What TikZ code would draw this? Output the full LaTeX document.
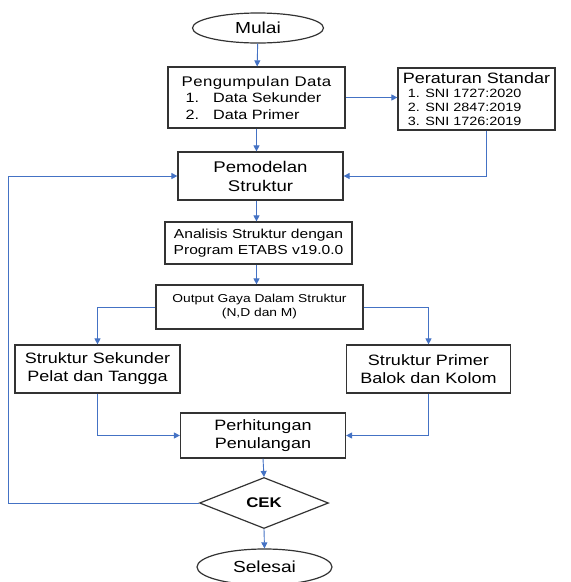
\documentclass[tikz,border=0pt]{standalone}
\usepackage{fontspec}
\setmainfont{Liberation Sans}[FakeStretch=1.2]
\usepackage{tikz}
\usetikzlibrary{positioning, arrows.meta, shapes.geometric}
\definecolor{linkblue}{RGB}{68,114,196}
\newcommand{\setfs}[2]{\fontsize{#1pt}{#2pt}\selectfont}

\begin{document}
\begin{tikzpicture}[x=1pt, y=-1pt,
    box/.style={
      draw=black!80, line width=1.2pt, align=center, inner sep=2pt
    },
    term/.style={
      draw=black!80, line width=1.2pt, ellipse, inner sep=0pt, font=\setfs{16}{18}
    },
    cekbox/.style={
      draw=black!80, line width=1.2pt, diamond, aspect=2.5, inner sep=0pt
    },
    arr/.style={-{Triangle[length=6pt, width=6pt]}, line width=0.9pt, linkblue},
  ]
    \useasboundingbox (0,0) rectangle (571,582);
    \node[term, minimum width=131pt, minimum height=30pt] (mulai) at (258,28) {Mulai};
    \node[box, align=left, font=\setfs{13.5}{16.5}, minimum width=177pt, minimum height=61pt] (kumpul) at (256.5,97.5) {%
      {\setfs{14}{16.5}\addfontfeature{LetterSpace=3}Pengumpulan Data}\\
      \hspace*{4pt}1.\hspace{14pt}Data Sekunder\\
      \hspace*{4pt}2.\hspace{14pt}Data Primer};
    \node[box, align=left, font=\setfs{15}{14}, minimum width=157pt, minimum height=62pt] (atur) at (476.5,99) {%
      Peraturan Standar\\
      {\setfs{12}{14}\hspace*{5pt}1. SNI 1727:2020}\\
      {\setfs{12}{14}\hspace*{5pt}2. SNI 2847:2019}\\
      {\setfs{12}{14}\hspace*{5pt}3. SNI 1726:2019}};
    \node[box, font=\setfs{15.5}{19}, minimum width=165pt, minimum height=48pt] (model) at (260.5,176) {Pemodelan\\Struktur};
    \node[box, font=\setfs{13}{16}, minimum width=187pt, minimum height=42pt] (analisis) at (258.5,243) {Analisis Struktur dengan\\Program ETABS v19.0.0};
    \node[box, font=\setfs{11.5}{14}, minimum width=207pt, minimum height=44pt] (output) at (259.5,307) {Output Gaya Dalam Struktur\\(N,D dan M)};
    \node[box, font=\setfs{15}{18}, minimum width=165pt, minimum height=48pt] (sekunder) at (97.5,369) {Struktur Sekunder\\Pelat dan Tangga};
    \node[box, font=\setfs{15}{18}, minimum width=164pt, minimum height=48pt] (primer) at (428.5,369) {Struktur Primer\\Balok dan Kolom};
    \node[box, font=\setfs{15}{18}, minimum width=165pt, minimum height=45pt] (hitung) at (263,435.5) {Perhitungan\\Penulangan};
    \node[cekbox, font=\bfseries\setfs{14}{16}, minimum width=129pt, minimum height=51pt] (cek) at (264,503) {CEK};
    \node[term, minimum width=135pt, minimum height=36pt] (selesai) at (264.5,567) {Selesai};
    \coordinate (kiri) at (8,300);

    \draw[arr] (mulai) -- (kumpul);
    \draw[arr] (kumpul.east) -- (kumpul.east -| atur.west);
    \draw[arr] (kumpul.south) -- (kumpul.south |- model.north);
    \draw[arr] ([xshift=10pt]atur.south) |- (model.east);
    \draw[arr] (model.south -| kumpul.south) -- (analisis.north -| kumpul.south);
    \draw[arr] (analisis.south -| kumpul.south) -- (output.north -| kumpul.south);
    \draw[arr] (output.west) -| (sekunder.north);
    \draw[arr] (output.east) -| (primer.north);
    \draw[arr] (sekunder.south) |- (hitung.west);
    \draw[arr] (primer.south) |- (hitung.east);
    \draw[arr] (hitung.south) -- (cek.north);
    \draw[arr] (cek.south) -- (selesai.north);
    \draw[arr] (cek.west) -- (cek.west -| kiri) |- (model.west);
  \end{tikzpicture}
\end{document}
